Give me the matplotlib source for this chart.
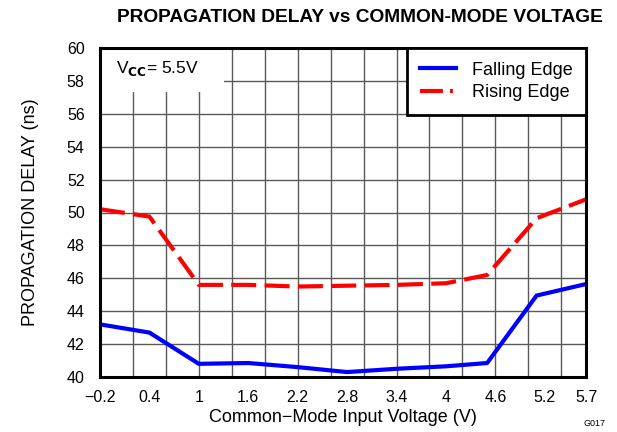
import matplotlib
matplotlib.use("Agg")
import matplotlib.pyplot as plt
import numpy as np
from matplotlib.patches import Rectangle
from matplotlib.lines import Line2D

plt.rcParams['font.family'] = ['Liberation Sans', 'DejaVu Sans']

voltage = [-0.2, 0.4, 1.0, 1.6, 2.2, 2.8, 3.4, 4.0, 4.5, 5.1, 5.7]
falling_edge = [43.2, 42.7, 40.8, 40.85, 40.6, 40.3, 40.5, 40.65, 40.85, 44.95, 45.65]
rising_edge = [50.2, 49.75, 45.6, 45.6, 45.5, 45.55, 45.6, 45.7, 46.2, 49.65, 50.8]
x_ticks = [-0.2, 0.4, 1, 1.6, 2.2, 2.8, 3.4, 4, 4.6, 5.2, 5.7]
x_tick_labels = ["\u22120.2", "0.4", "1", "1.6", "2.2", "2.8", "3.4", "4", "4.6", "5.2", "5.7"]
y_ticks = list(range(40, 61, 2))

fig = plt.figure(figsize=(6.17, 4.32), dpi=100)
ax = fig.add_axes([100/617, 55/432, 486/617, 329/432])

ax.set_xlim(-0.2, 5.7)
ax.set_ylim(40, 60)

# grid
for gx in np.arange(-0.2, 5.65, 0.4)[1:]:
    ax.axvline(gx, color='#5a5a5a', lw=1.0, zorder=1)
for gy in y_ticks[1:-1]:
    ax.axhline(gy, color='#5a5a5a', lw=1.0, zorder=1)

# white box behind VCC label
ax.add_patch(Rectangle((-0.2, 57.3), 1.5, 2.7, facecolor='white', edgecolor='none', zorder=2))
ax.text(-0.2 + 0.2, 58.75, r"V$_{\mathbf{CC}}$= 5.5V", fontsize=12.5, va='center', ha='left', zorder=3)

ax.plot(voltage, falling_edge, color='#0000ff', lw=3.0, zorder=4)
ax.plot(voltage, rising_edge, color='#ff0000', lw=3.0, zorder=4, linestyle=(0, (6, 2)))

ax.set_xticks(x_ticks)
ax.set_xticklabels(x_tick_labels)
ax.set_yticks(y_ticks)
ax.tick_params(axis='x', length=0, labelsize=11.5, pad=9)
ax.tick_params(axis='y', length=0, labelsize=11.5, pad=11)

for s in ax.spines.values():
    s.set_linewidth(2.2)
    s.set_zorder(5)

handles = [Line2D([0], [0], color='#0000ff', lw=3.0),
           Line2D([0], [0], color='#ff0000', lw=3.0, linestyle=(0, (5.5, 1.7, 0.7, 1.7)))]
leg = ax.legend(handles, ["Falling Edge", "Rising Edge"], loc='upper right',
                fontsize=13, frameon=True, fancybox=False, framealpha=1,
                borderaxespad=0, handlelength=2.0, handletextpad=0.85,
                labelspacing=0.3, borderpad=0.75)
leg.get_frame().set_edgecolor('black')
leg.get_frame().set_linewidth(2.0)
leg.set_zorder(6)

ax.set_xlabel("Common\u2212Mode Input Voltage (V)", fontsize=13, labelpad=3)
ax.set_ylabel("PROPAGATION DELAY (ns)", fontsize=13, labelpad=20)

fig.text(360/617, 1 - 18/432, "PROPAGATION DELAY vs COMMON-MODE VOLTAGE",
         fontsize=13.8, fontweight='bold', ha='center', va='center')
fig.text(605/617, 1 - 424/432, "G017", fontsize=6.5, ha='right', va='center')

fig.savefig("out.png", dpi=100)
